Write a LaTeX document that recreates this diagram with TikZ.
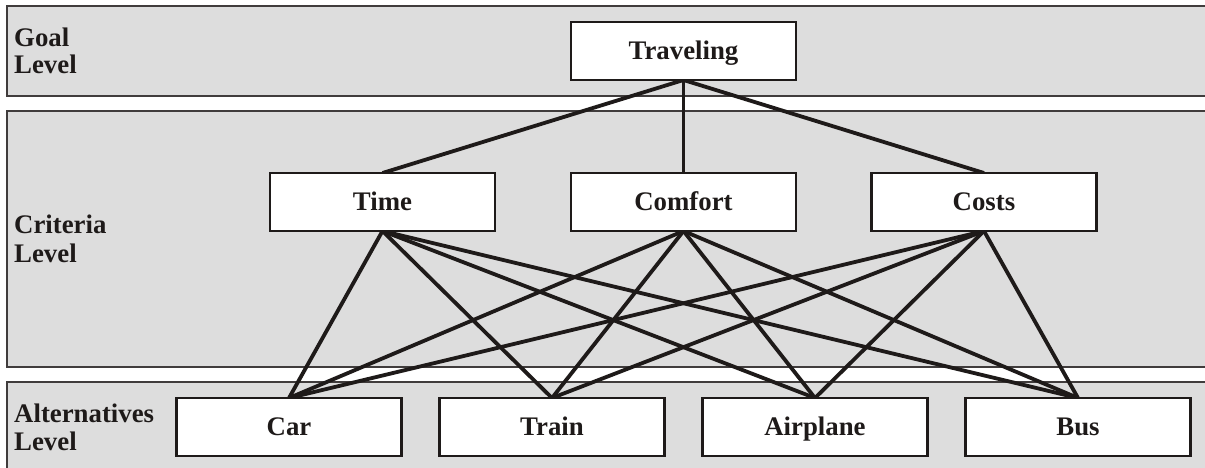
\documentclass[tikz,border=0pt]{standalone}
\usepackage{fontspec}
\setmainfont{Liberation Serif}
\definecolor{bandgray}{HTML}{DDDDDD}
\definecolor{ink}{HTML}{1E1A19}
\pgfdeclarelayer{bands}
\pgfdeclarelayer{links}
\pgfsetlayers{bands,links,main}
\begin{document}
\begin{tikzpicture}[x=1pt,y=-1pt,
  band/.style={fill=bandgray,draw=ink!85,line width=1.5pt},
  box/.style={draw=ink,fill=white,line width=2.6pt,outer sep=0pt,inner sep=0pt,
    minimum width=225pt,minimum height=58pt,text height=17.5pt,text depth=0pt,
    text=ink,font=\fontsize{26.8}{27}\selectfont\bfseries},
  lvl/.style={anchor=base west,inner sep=0pt,font=\fontsize{26.8}{27}\selectfont\bfseries,text=ink},
  link/.style={draw=ink,line width=3.8pt}]
\useasboundingbox (0,0) rectangle (1205,468);
\clip (0,0) rectangle (1205,468);

% level bands
\begin{pgfonlayer}{bands}
  \draw[band] (7,6) rectangle (1215,96);
  \draw[band] (7,111) rectangle (1215,367);
  \draw[band] (7,382) rectangle (1215,490);
\end{pgfonlayer}

% level labels
\node[lvl] (goalA) at (14,47) {Goal};
\node[lvl] (goalB) at (14,74) {Level};
\node[lvl] (critA) at (14,233) {Criteria};
\node[lvl] (critB) at (14,262) {Level};
\node[lvl] (altA) at (14,422) {Alternatives};
\node[lvl] (altB) at (14,450) {Level};

% goal, criteria and alternatives
\node[box] (trav) at (683.5,51) {Traveling};
\node[box] (time) at (382.5,202) {Time};
\node[box] (comf) at (683.5,202) {Comfort};
\node[box] (cost) at (984,202) {Costs};
\node[box] (car) at (289,427) {Car};
\node[box] (train) at (552,427) {Train};
\node[box] (air) at (815,427) {Airplane};
\node[box] (bus) at (1078,427) {Bus};

% connectors, above the bands and behind the boxes
\begin{pgfonlayer}{links}
  \foreach \c in {time,comf,cost}
    \draw[link] (trav.south) -- (\c.north);
  \foreach \c in {time,comf,cost}
    \foreach \a in {car,train,air,bus}
      \draw[link] (\c.south) -- (\a.north);
\end{pgfonlayer}
\end{tikzpicture}
\end{document}
